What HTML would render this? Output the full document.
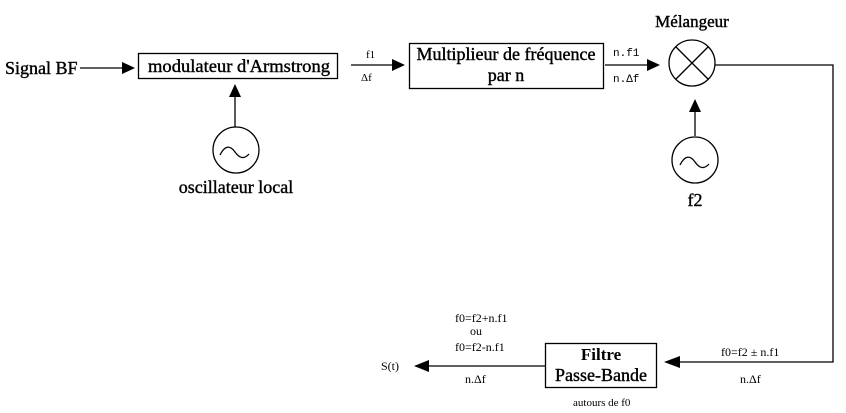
<!DOCTYPE html>
<html><head><style>
body{margin:0;background:#fff}
svg{display:block}
text{font-family:"Liberation Serif",serif;fill:#000}
.b{stroke:#000;stroke-width:0.4}
</style></head><body>
<svg width="846" height="413" viewBox="0 0 846 413">
<g stroke="#000" stroke-width="1.3" fill="none">
<line x1="80" y1="68" x2="124" y2="68"/>
<rect x="138.5" y="53.5" width="199" height="25"/>
<line x1="235" y1="96" x2="235" y2="127"/>
<circle cx="236" cy="150" r="23"/>
<path d="M220 155 q7 -14 15 -3 q7 10 14 2"/>
<line x1="351" y1="65" x2="394" y2="65"/>
<rect x="409.5" y="43.5" width="194" height="45"/>
<line x1="605" y1="65" x2="648" y2="65"/>
<circle cx="692" cy="63" r="23"/>
<line x1="676" y1="47" x2="708" y2="79"/>
<line x1="708" y1="47" x2="676" y2="79"/>
<line x1="695" y1="112" x2="695" y2="136"/>
<circle cx="695" cy="160" r="23"/>
<path d="M680 165 q7 -14 15 -3 q7 10 14 2"/>
<polyline points="715,65 833,65 833,362 678,362"/>
<rect x="545.5" y="343.5" width="111" height="44"/>
<line x1="545" y1="366" x2="426" y2="366"/>
</g>
<g fill="#000">
<polygon points="122,62 135,68 122,74"/>
<polygon points="229,97 235,84 241,97"/>
<polygon points="392,59 405,65 392,71"/>
<polygon points="647,59 660,65 647,71"/>
<polygon points="689,112 695,99 701,112"/>
<polygon points="680,356 664,362 680,368"/>
<polygon points="429,360 414,366 429,372"/>
</g>
<text class="b" x="5" y="74" font-size="18">Signal BF</text>
<text class="b" x="148" y="72" font-size="18" textLength="182" lengthAdjust="spacingAndGlyphs">modulateur d'Armstrong</text>
<text class="b" x="236" y="193" font-size="18" text-anchor="middle">oscillateur local</text>
<text x="366" y="58" font-size="11">f1</text>
<text x="361" y="81" font-size="11">Δf</text>
<text class="b" x="506" y="60" font-size="18" text-anchor="middle">Multiplieur de fréquence</text>
<text class="b" x="506" y="81" font-size="18" text-anchor="middle">par n</text>
<text x="613" y="56" font-size="11" style="font-family:'Liberation Mono',monospace">n.f1</text>
<text x="613" y="82" font-size="11" style="font-family:'Liberation Mono',monospace">n.Δf</text>
<text class="b" x="692" y="27" font-size="17" text-anchor="middle">Mélangeur</text>
<text class="b" x="695" y="206" font-size="18" text-anchor="middle">f2</text>
<text x="601" y="360" font-size="17" font-weight="bold" text-anchor="middle">Filtre</text>
<text class="b" x="601" y="381" font-size="18" text-anchor="middle">Passe-Bande</text>
<text x="573" y="406" font-size="11">autours de f0</text>
<text x="721" y="356" font-size="12">f0=f2 ± n.f1</text>
<text x="740" y="383" font-size="12">n.Δf</text>
<text x="455" y="322" font-size="12">f0=f2+n.f1</text>
<text x="470" y="335" font-size="12">ou</text>
<text x="455" y="351" font-size="12">f0=f2-n.f1</text>
<text x="465" y="383" font-size="12">n.Δf</text>
<text x="381" y="370" font-size="12">S(t)</text>
</svg>
</body></html>
